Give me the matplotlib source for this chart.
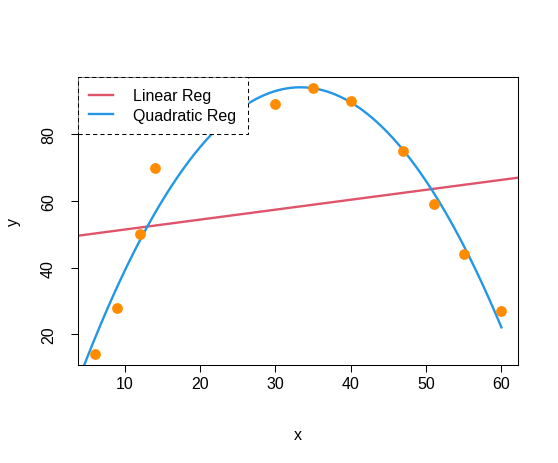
import numpy as np
import matplotlib
matplotlib.use("Agg")
import matplotlib.pyplot as plt

plt.rcParams['font.family'] = ['Liberation Sans', 'DejaVu Sans']

x = np.array([6, 9, 12, 14, 30, 35, 40, 47, 51, 55, 60])
y = np.array([14, 28, 50, 70, 89, 94, 90, 75, 59, 44, 27])
xticks = [10, 20, 30, 40, 50, 60]
yticks = [20, 40, 60, 80]

fs = 11.5
fig = plt.figure(figsize=(5.58, 4.64), dpi=100)
ax = fig.add_axes([78.3/558, 1-366/464, (517.7-78.3)/558, (366-78)/464])

xr = x.max() - x.min(); yr = y.max() - y.min()
ax.set_xlim(x.min() - 0.04*xr, x.max() + 0.04*xr)
ax.set_ylim(y.min() - 0.04*yr, y.max() + 0.04*yr)

ax.scatter(x, y, s=60, color='#FF8C00', zorder=3, linewidths=0)

lin = np.polyfit(x, y, 1)
xl = np.array(ax.get_xlim())
ax.plot(xl, np.polyval(lin, xl), color='#DF536B', lw=1.7, label='Linear Reg', zorder=2)

quad = np.polyfit(x, y, 2)
xq = np.linspace(0, 60, 400)
ax.plot(xq, np.polyval(quad, xq), color='#2297E6', lw=1.7, label='Quadratic Reg', zorder=2)
ax.set_xlim(x.min() - 0.04*xr, x.max() + 0.04*xr)

ax.set_xticks(xticks)
ax.set_yticks(yticks)
ax.tick_params(direction='out', length=5.2, width=0.75, labelsize=fs)
ax.tick_params(axis='x', pad=3)
ax.tick_params(axis='y', pad=11)
for lab in ax.get_yticklabels():
    lab.set_rotation(90)
    lab.set_va('center')
for s in ax.spines.values():
    s.set_linewidth(0.75)
ax.set_xlabel('x', fontsize=fs, labelpad=26)
ax.set_ylabel('y', fontsize=fs, labelpad=14)

leg = ax.legend(loc='upper left', bbox_to_anchor=(0, 1), borderaxespad=0,
                fontsize=fs, fancybox=False, framealpha=1, edgecolor='black',
                handlelength=1.5, handletextpad=1.25, borderpad=0.7, labelspacing=0.3)
leg.get_frame().set_linestyle((0, (4, 3)))
leg.get_frame().set_linewidth(0.75)
leg.set_zorder(5)

fig.savefig('out.png', dpi=100)
